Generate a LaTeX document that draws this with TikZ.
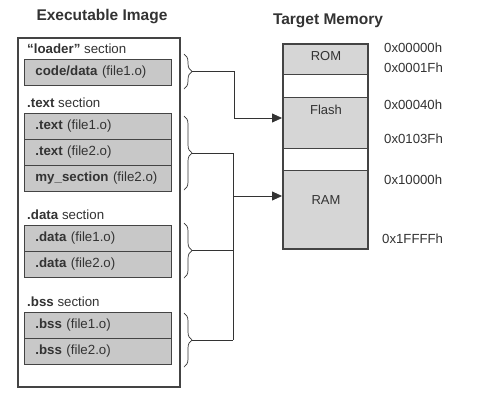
\documentclass[tikz,border=0pt]{standalone}
\usepackage{fontspec}
\setmainfont{Liberation Sans}
\usetikzlibrary{arrows.meta,decorations.pathreplacing,calc}
\definecolor{ink}{HTML}{333333}
\definecolor{boxfill}{HTML}{C8C8C8}
\definecolor{memfill}{HTML}{D6D6D6}
\definecolor{frame}{HTML}{444444}
\tikzset{
  title/.style={font=\fontsize{15.5}{18}\selectfont\bfseries, text=ink, inner sep=0pt},
  seclabel/.style={font=\fontsize{13.3}{15}\selectfont, text=ink, anchor=west, inner sep=0pt},
  row/.style={draw=frame, line width=0.8pt, fill=boxfill, anchor=north west,
    minimum width=147pt, minimum height=26pt, text width=125pt, inner xsep=11pt, inner ysep=0pt,
    align=left, font=\fontsize{13.3}{15}\selectfont, text=ink},
  memreg/.style={draw=frame, line width=0.8pt, anchor=north west, minimum width=85pt, inner sep=0pt},
  memlabel/.style={font=\fontsize{13}{15}\selectfont, text=ink, inner sep=0pt},
  addr/.style={font=\fontsize{13.2}{15}\selectfont, text=ink, anchor=west, inner sep=0pt},
  bracestyle/.style={draw=ink, line width=0.7pt, decorate, decoration={brace, amplitude=8pt}},
  conn/.style={draw=ink, line width=0.8pt},
  arrowconn/.style={conn, -{Triangle[length=10pt,width=9pt]}},
}
\begin{document}
\begin{tikzpicture}[x=1pt,y=-1pt]
\useasboundingbox[fill=white] (0,0) rectangle (493,400);

% titles
\node[title] (t1) at (102,17) {Executable Image};
\node[title] (t2) at (328,21) {Target Memory};

% outer frame
\node[draw=frame, line width=1.6pt, anchor=north west, minimum width=162pt, minimum height=349pt, inner sep=0pt] (img) at (17,37) {};

% loader section
\node[seclabel] (s1) at (27,49) {\textbf{“loader”} section};
\node[row] (r1) at (24,59) {\textbf{code/data} (file1.o)};

% text section
\node[seclabel] (s2) at (27,103) {\textbf{.text} section};
\node[row] (r2) at (24,113) {\textbf{.text} (file1.o)};
\node[row] (r3) at (24,139) {\textbf{.text} (file2.o)};
\node[row] (r4) at (24,165) {\textbf{my\_section} (file2.o)};

% data section
\node[seclabel] (s3) at (27,215) {\textbf{.data} section};
\node[row] (r5) at (24,225) {\textbf{.data} (file1.o)};
\node[row] (r6) at (24,251) {\textbf{.data} (file2.o)};

% bss section
\node[seclabel] (s4) at (27,302) {\textbf{.bss} section};
\node[row] (r7) at (24,312) {\textbf{.bss} (file1.o)};
\node[row] (r8) at (24,338) {\textbf{.bss} (file2.o)};

% braces
\draw[bracestyle] (184,54) -- (184,89);
\draw[bracestyle] (184,116) -- (184,190);
\draw[bracestyle] (184,223) -- (184,278);
\draw[bracestyle] (184,313) -- (184,367);
\coordinate (b1) at (192,71.5);
\coordinate (b2) at (192,153);
\coordinate (b3) at (192,250.5);
\coordinate (b4) at (192,340);

% memory
\node[memreg, fill=memfill, minimum height=31pt] (rom) at (282,43) {};
\node[memreg, fill=white, minimum height=23pt] (gap1) at (282,74) {};
\node[memreg, fill=memfill, minimum height=51pt] (flash) at (282,97) {};
\node[memreg, fill=white, minimum height=22pt] (gap2) at (282,148) {};
\node[memreg, fill=memfill, minimum height=78pt] (ram) at (282,170) {};
\node[draw=frame, line width=1.6pt, anchor=north west, minimum width=85pt, minimum height=205pt, inner sep=0pt] (mem) at (282,43) {};

\node[memlabel] (lrom) at (326,56) {ROM};
\node[memlabel] (lflash) at (326,110) {Flash};
\node[memlabel] (lram) at (326,200) {RAM};

% addresses
\node[addr] (a1) at (384,48) {0x00000h};
\node[addr] (a2) at (384,68) {0x0001Fh};
\node[addr] (a3) at (384,105) {0x00040h};
\node[addr] (a4) at (384,139) {0x0103Fh};
\node[addr] (a5) at (384,180) {0x10000h};
\node[addr] (a6) at (382,239) {0x1FFFFh};

% connectors
\coordinate (k1) at (234,118);
\coordinate (fa) at (flash.west |- k1);
\draw[conn] (b1) -| (k1);
\draw[arrowconn] (k1) -- (fa);

\coordinate (k4) at (233,340);
\coordinate (k2) at (233,196);
\coordinate (ra) at (ram.west |- k2);
\draw[conn] (b2) -| (k4);
\draw[conn] (b3) -- (b3 -| k4);
\draw[conn] (b4) -- (k4);
\draw[arrowconn] (k2) -- (ra);
\end{tikzpicture}
\end{document}
